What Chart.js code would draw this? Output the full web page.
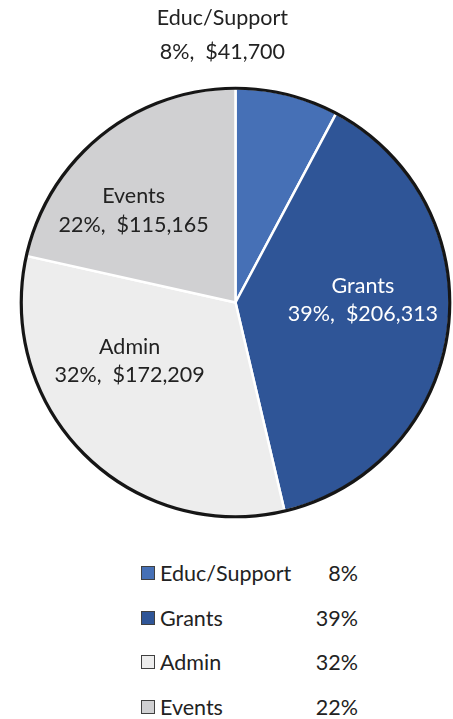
<!DOCTYPE html>
<html lang="en">
  <head>
    <meta charset="UTF-8" />
    <title>Budget pie</title>
    <script src="https://cdn.jsdelivr.net/npm/chart.js"></script>
    <style>
      body { margin: 0; background: #fff; font-family: Lato, sans-serif; color: #222; }
      .grafico { position: absolute; left: 0; top: 0; width: 453px; height: 540px; }
      .legenda { position: absolute; left: 141px; top: 551px; width: 217px; }
      .linha { height: 44.5px; line-height: 44.5px; display: flex; align-items: center; font-size: 21.5px; }
      .caixa { width: 12px; height: 12px; border: 1px solid #404040; margin-right: 5px; }
      .nome { flex: 1; }
      .pct { text-align: right; }
    </style>
  </head>
  <body>
    <div class="grafico"><canvas id="pizza"></canvas></div>
    <div class="legenda" id="legenda"></div>
  </body>
</html>
<script>
  const categorias = ["Educ/Support", "Grants", "Admin", "Events"]
  const valores = [41700, 206313, 172209, 115165]
  const cores = ["#4670B6", "#2F5597", "#EDEDED", "#D0D0D2"]
  const corTexto = ["#222222", "#FFFFFF", "#222222", "#222222"]
  // label spot: angle from top (deg, clockwise) and distance / radius
  const posRotulo = [[-2.8, 1.25], [89, 0.595], [241, 0.565], [312, 0.64]]
  const gapLinha = [34, 28, 28, 29]

  const total = valores.reduce((a, b) => a + b, 0)
  const pct = valores.map((v) => Math.round((v / total) * 100) + "%")
  const dinheiro = valores.map((v) => "$" + v.toLocaleString("en-US"))

  Chart.defaults.font.family = "Lato, sans-serif"

  const rotulos = {
    id: "rotulos",
    afterDatasetsDraw(chart) {
      const ctx = chart.ctx
      const arcos = chart.getDatasetMeta(0).data
      const cx = arcos[0].x
      const cy = arcos[0].y
      const r = arcos[0].outerRadius
      // black outer ring
      ctx.save()
      ctx.beginPath()
      ctx.arc(cx, cy, r, 0, Math.PI * 2)
      ctx.lineWidth = 3.2
      ctx.strokeStyle = "#161616"
      ctx.stroke()
      ctx.font = "21.5px Lato, sans-serif"
      ctx.textAlign = "center"
      ctx.textBaseline = "middle"
      arcos.forEach((arco, i) => {
        const ang = (posRotulo[i][0] * Math.PI) / 180
        const d = posRotulo[i][1] * r
        const x = cx + d * Math.sin(ang)
        const y = cy - d * Math.cos(ang)
        ctx.fillStyle = corTexto[i]
        ctx.fillText(categorias[i], x, y - gapLinha[i] / 2)
        ctx.fillText(pct[i] + ",  " + dinheiro[i], x, y + gapLinha[i] / 2)
      })
      ctx.restore()
    },
  }

  const grafico1 = document.getElementById("pizza")
  let pizza = new Chart(grafico1, {
    type: "pie",
    data: {
      labels: categorias,
      datasets: [
        {
          data: valores,
          backgroundColor: cores,
          borderColor: "#FFFFFF",
          borderWidth: 2.5,
        },
      ],
    },
    options: {
      responsive: true,
      maintainAspectRatio: false,
      animation: false,
      layout: { padding: { left: 20, right: 2, top: 87, bottom: 22 } },
      plugins: {
        legend: { display: false },
        tooltip: { enabled: false },
      },
    },
    plugins: [rotulos],
  })

  const legenda = document.getElementById("legenda")
  categorias.forEach((c, i) => {
    legenda.innerHTML +=
      `<div class="linha"><span class="caixa" style="background:${cores[i]}"></span>` +
      `<span class="nome">${c}</span><span class="pct">${pct[i]}</span></div>`
  })
</script>
